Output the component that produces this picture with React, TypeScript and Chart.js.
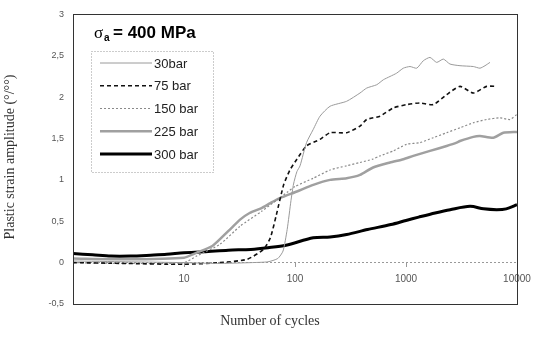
import React, { useEffect, useRef } from "react";
import { Chart, registerables } from "chart.js";

Chart.register(...registerables);

const xTicks = [10, 100, 1000, 10000];
const yMin = -0.5;
const yMax = 3;

const cycles30 = [1, 3, 10, 20, 40, 57, 70, 78, 85, 92, 97, 104, 111, 127, 146, 168, 207, 292, 385, 443, 545, 625, 718, 824, 946, 1087, 1250, 1432, 1645, 1890, 2170, 2490, 3065, 4040, 4640, 5150, 5710];
const strain30 = [0.02, 0.01, 0.0, -0.01, 0.0, 0.01, 0.05, 0.14, 0.4, 0.75, 0.95, 1.1, 1.17, 1.45, 1.61, 1.77, 1.89, 1.95, 2.05, 2.11, 2.15, 2.21, 2.25, 2.29, 2.35, 2.37, 2.35, 2.44, 2.48, 2.42, 2.46, 2.4, 2.38, 2.37, 2.35, 2.38, 2.42];

const cycles75 = [1, 3, 10, 21, 37, 52, 60, 68, 79, 90, 104, 127, 168, 207, 292, 385, 443, 583, 769, 1014, 1336, 1762, 2323, 3065, 4040, 5330, 6560];
const strain75 = [0.0, -0.01, -0.02, 0.0, 0.04, 0.16, 0.3, 0.58, 0.94, 1.12, 1.25, 1.41, 1.49, 1.57, 1.57, 1.65, 1.73, 1.77, 1.87, 1.91, 1.93, 1.91, 2.03, 2.13, 2.05, 2.13, 2.13];

const cycles150 = [1, 3, 10, 13, 21, 32, 50, 69, 85, 100, 146, 207, 292, 385, 500, 583, 769, 1014, 1336, 1762, 2323, 3065, 4040, 5330, 7030, 8650, 9930];
const strain150 = [0.0, -0.01, 0.0, 0.08, 0.22, 0.44, 0.62, 0.76, 0.85, 0.92, 1.02, 1.12, 1.17, 1.21, 1.25, 1.29, 1.35, 1.43, 1.45, 1.51, 1.57, 1.63, 1.69, 1.73, 1.75, 1.73, 1.79];

const cycles225 = [1, 3, 10, 13, 18, 25, 32, 39, 50, 60, 73, 104, 146, 207, 292, 385, 505, 718, 946, 1164, 1645, 2323, 2860, 3065, 4040, 4640, 6120, 7530, 10000];
const strain225 = [0.05, 0.04, 0.06, 0.12, 0.2, 0.38, 0.52, 0.6, 0.66, 0.72, 0.78, 0.86, 0.94, 1.0, 1.02, 1.06, 1.15, 1.21, 1.25, 1.29, 1.35, 1.41, 1.45, 1.47, 1.52, 1.53, 1.51, 1.57, 1.58];

const cycles300 = [1, 1.5, 2.2, 3.3, 5, 7, 10, 15, 25, 40, 57, 83, 146, 207, 292, 450, 730, 1000, 1300, 1830, 2500, 3775, 5000, 6560, 8000, 10000];
const strain300 = [0.11, 0.095, 0.08, 0.08, 0.09, 0.1, 0.12, 0.13, 0.15, 0.16, 0.18, 0.21, 0.3, 0.31, 0.34, 0.4, 0.46, 0.51, 0.55, 0.6, 0.64, 0.68, 0.65, 0.64, 0.65, 0.7];

const seriesLabels = ["30bar", "75 bar", "150 bar", "225 bar", "300 bar"];

const SANS = "'Liberation Sans', Arial, sans-serif";
const SERIF = "'Liberation Serif', 'Times New Roman', serif";

const pts = (xs: number[], ys: number[]) => xs.map((x, i) => ({ x, y: ys[i] }));

const decorPlugin = {
  id: "decor",
  afterDraw(chart: any) {
    const { ctx, chartArea } = chart;
    const { left, right, top, bottom } = chartArea;
    ctx.save();
    // frame
    ctx.strokeStyle = "#333";
    ctx.lineWidth = 1;
    ctx.setLineDash([]);
    ctx.strokeRect(Math.round(left) + 0.5, Math.round(top) + 0.5, Math.round(right - left), Math.round(bottom - top));

    // title
    ctx.fillStyle = "#000";
    ctx.textBaseline = "alphabetic";
    ctx.textAlign = "left";
    ctx.font = `17px ${SERIF}`;
    ctx.fillText("σ", 94, 38);
    ctx.font = `bold 10px ${SANS}`;
    ctx.fillText("a", 104, 41);
    ctx.font = `bold 17px ${SANS}`;
    ctx.fillText("= 400 MPa", 113, 38);

    // legend box
    const bx = 91, by = 51, bw = 122, bh = 121;
    ctx.strokeStyle = "#999";
    ctx.lineWidth = 1;
    ctx.setLineDash([1, 2]);
    ctx.strokeRect(bx + 0.5, by + 0.5, bw, bh);
    ctx.font = `13px ${SANS}`;
    ctx.textBaseline = "middle";
    chart.data.datasets.forEach((ds: any, i: number) => {
      const y = 63 + i * 22.75;
      ctx.strokeStyle = ds.borderColor;
      ctx.lineWidth = ds.borderWidth;
      ctx.setLineDash(ds.borderDash || []);
      ctx.beginPath();
      ctx.moveTo(100, y);
      ctx.lineTo(152, y);
      ctx.stroke();
      ctx.fillStyle = "#222";
      ctx.fillText(ds.label, 154, y + 1);
    });
    ctx.setLineDash([]);

    // axis titles
    ctx.fillStyle = "#333";
    ctx.font = `14px ${SERIF}`;
    ctx.textAlign = "center";
    ctx.textBaseline = "middle";
    ctx.fillText("Number of cycles", 270, 321);
    ctx.translate(10, 157);
    ctx.rotate(-Math.PI / 2);
    ctx.fillText("Plastic strain amplitude (°/°°)", 0, 0);
    ctx.restore();
  },
};

export default function App() {
  const ref = useRef<HTMLCanvasElement>(null);
  useEffect(() => {
    if (!ref.current) return;
    const chart = new Chart(ref.current, {
      type: "line",
      data: {
        datasets: [
          { label: seriesLabels[0], data: pts(cycles30, strain30), borderColor: "#9a9a9a", borderWidth: 1, pointRadius: 0, tension: 0.2 },
          { label: seriesLabels[1], data: pts(cycles75, strain75), borderColor: "#111", borderWidth: 1.6, borderDash: [4, 3], pointRadius: 0, tension: 0.2 },
          { label: seriesLabels[2], data: pts(cycles150, strain150), borderColor: "#8a8a8a", borderWidth: 1.2, borderDash: [2, 2], pointRadius: 0, tension: 0.2 },
          { label: seriesLabels[3], data: pts(cycles225, strain225), borderColor: "#a0a0a0", borderWidth: 2.5, pointRadius: 0, tension: 0.2 },
          { label: seriesLabels[4], data: pts(cycles300, strain300), borderColor: "#000", borderWidth: 3, pointRadius: 0, tension: 0.3 },
        ],
      } as any,
      options: {
        responsive: false,
        animation: false,
        layout: { padding: { left: 0, top: 10, right: 21, bottom: 34 } },
        plugins: { legend: { display: false }, tooltip: { enabled: false } },
        scales: {
          x: {
            type: "logarithmic",
            min: 1,
            max: 10000,
            position: { y: 0 } as any,
            afterBuildTicks: (s: any) => {
              s.ticks = xTicks.map((v) => ({ value: v }));
            },
            ticks: {
              autoSkip: false,
              maxRotation: 0,
              padding: 7,
              color: "#555",
              font: { family: SANS, size: 10 },
              callback: (v: any) => String(v),
            },
            grid: { drawOnChartArea: false, drawTicks: true, tickLength: 4, color: "#999" },
            border: { display: false },
          },
          y: {
            min: yMin,
            max: yMax,
            afterFit: (s: any) => {
              s.width = 73;
            },
            ticks: {
              stepSize: 0.5,
              padding: 9,
              color: "#555",
              font: { family: SANS, size: 9 },
              callback: (v: any) => String(v).replace(".", ","),
            },
            grid: {
              drawTicks: false,
              color: (c: any) => (c.tick && c.tick.value === 0 ? "#999" : "rgba(0,0,0,0)"),
            },
            border: { display: true, color: "#333", dash: [2, 2] },
          },
        },
      } as any,
      plugins: [decorPlugin],
    });
    return () => chart.destroy();
  }, []);
  return (
    <div style={{ position: "fixed", left: 0, top: 0, width: 538, height: 338, background: "#fff" }}>
      <canvas ref={ref} width={538} height={338} />
    </div>
  );
}
